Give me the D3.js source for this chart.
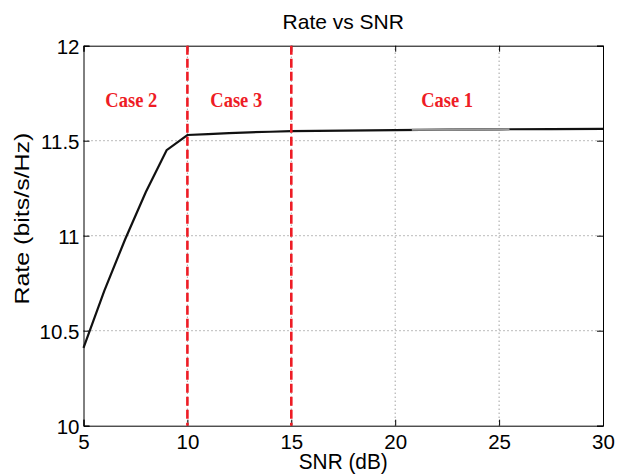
<!DOCTYPE html>
<html>
<head>
<meta charset="utf-8">
<script src="https://cdn.jsdelivr.net/npm/d3@7"></script>
<style>
  html, body { margin: 0; padding: 0; background: #fff; }
  svg { display: block; }
  text { font-family: "Liberation Sans", Arial, sans-serif; }
</style>
</head>
<body>
<svg id="chart" width="623" height="476"></svg>
<script>
// Achievable rate versus SNR
const snr  = [5, 6, 7, 8, 9, 10, 11, 12, 13, 14, 15, 17.5, 20, 22.5, 25, 27.5, 30];
const rate = [10.41, 10.71, 10.98, 11.23, 11.45, 11.53, 11.535, 11.54, 11.544, 11.547, 11.55, 11.553, 11.556, 11.558, 11.56, 11.561, 11.562];
// lighter overlapping curve segment
const snrBound  = [20.8, 22.5, 25.5];
const rateBound = [11.557, 11.558, 11.5605];

const xTicks = [5, 10, 15, 20, 25, 30];
const yTicks = [10, 10.5, 11, 11.5, 12];
const boundaries = [10, 15];
const caseLabels = ["Case 2", "Case 3", "Case 1"];
const caseX = [7.3, 12.35, 22.5];
const caseY = 11.68;

const svg = d3.select("#chart");
const m = { left: 83.5, right: 20, top: 45.7, bottom: 50.3 };
const W = 623, H = 476;
const x = d3.scaleLinear().domain([5, 30]).range([m.left, W - m.right]);
const y = d3.scaleLinear().domain([10, 12]).range([H - m.bottom, m.top]);

// stretch a text element vertically about its own centre
function stretchY(sel, s) {
  sel.each(function () {
    const b = this.getBBox();
    const cy = b.y + b.height / 2;
    const prev = this.getAttribute("transform") || "";
    this.setAttribute("transform", `${prev} translate(0,${cy * (1 - s)}) scale(1,${s})`);
  });
}

// dotted grid
const grid = svg.append("g");
grid.selectAll("line.gx").data(xTicks.slice(1, -1)).join("line")
  .attr("x1", d => x(d)).attr("x2", d => x(d))
  .attr("y1", y(10)).attr("y2", y(12))
  .attr("stroke", "#555").attr("stroke-width", 0.8).attr("stroke-dasharray", "1,3");
grid.selectAll("line.gy").data(yTicks.slice(1, -1)).join("line")
  .attr("x1", x(5)).attr("x2", x(30))
  .attr("y1", d => y(d)).attr("y2", d => y(d))
  .attr("stroke", "#555").attr("stroke-width", 0.8).attr("stroke-dasharray", "1,3");

// axes with inward ticks on all four sides
const fmt = d3.format("");
const axB = svg.append("g").attr("transform", `translate(0,${y(10)})`)
  .call(d3.axisBottom(x).tickValues(xTicks).tickSize(-6).tickPadding(9).tickFormat(fmt));
const axT = svg.append("g").attr("transform", `translate(0,${y(12)})`)
  .call(d3.axisTop(x).tickValues(xTicks).tickSize(-6).tickFormat(""));
const axL = svg.append("g").attr("transform", `translate(${x(5)},0)`)
  .call(d3.axisLeft(y).tickValues(yTicks).tickSize(-6).tickPadding(4).tickFormat(fmt));
const axR = svg.append("g").attr("transform", `translate(${x(30)},0)`)
  .call(d3.axisRight(y).tickValues(yTicks).tickSize(-6).tickFormat(""));
[axB, axT, axL, axR].forEach(a => {
  a.select(".domain").attr("stroke", "#000").attr("stroke-width", 1);
  a.selectAll(".tick line").attr("stroke", "#000");
  a.selectAll("text").attr("fill", "#000").style("font-size", "20.5px")
    .style("font-family", "'Liberation Sans', Arial, sans-serif");
});
axB.selectAll("text").attr("dy", "0.71em");
axL.selectAll("text").attr("dy", "0.36em");

// rate curve
const line = d3.line().x(d => x(d[0])).y(d => y(d[1]));
svg.append("path")
  .datum(snr.map((s, i) => [s, rate[i]]))
  .attr("d", line).attr("fill", "none")
  .attr("stroke", "#111").attr("stroke-width", 2.2);
svg.append("path")
  .datum(snrBound.map((s, i) => [s, rateBound[i]]))
  .attr("d", line).attr("fill", "none")
  .attr("stroke", "#999").attr("stroke-width", 2);

// region boundaries
svg.selectAll("line.bd").data(boundaries).join("line")
  .attr("x1", d => x(d)).attr("x2", d => x(d))
  .attr("y1", y(12)).attr("y2", y(10))
  .attr("stroke", "#ee1c25").attr("stroke-width", 2.6).attr("stroke-dasharray", "9,4");

// region labels
const cases = svg.selectAll("text.case").data(caseLabels).join("text")
  .attr("class", "case")
  .attr("x", (d, i) => x(caseX[i])).attr("y", y(caseY))
  .attr("text-anchor", "middle")
  .style("font-family", "'Liberation Serif', 'Times New Roman', serif")
  .style("font-weight", "bold").style("font-size", "18.5px")
  .attr("fill", "#ee1c25").text(d => d);
stretchY(cases, 1.15);

// titles
svg.append("text").attr("x", x(17.5)).attr("y", 29).attr("text-anchor", "middle")
  .style("font-size", "21px").text("Rate vs SNR");
const xLabel = svg.append("text").attr("x", x(17.5)).attr("y", 468).attr("text-anchor", "middle")
  .style("font-size", "20.8px").text("SNR (dB)");
stretchY(xLabel, 1.1);

// y-axis label (stretched along its length)
svg.append("text")
  .attr("transform", `translate(29,${y(11.09)}) rotate(-90) scale(1.2,1)`)
  .attr("text-anchor", "middle").style("font-size", "20.8px").text("Rate (bits/s/Hz)");
</script>
</body>
</html>
